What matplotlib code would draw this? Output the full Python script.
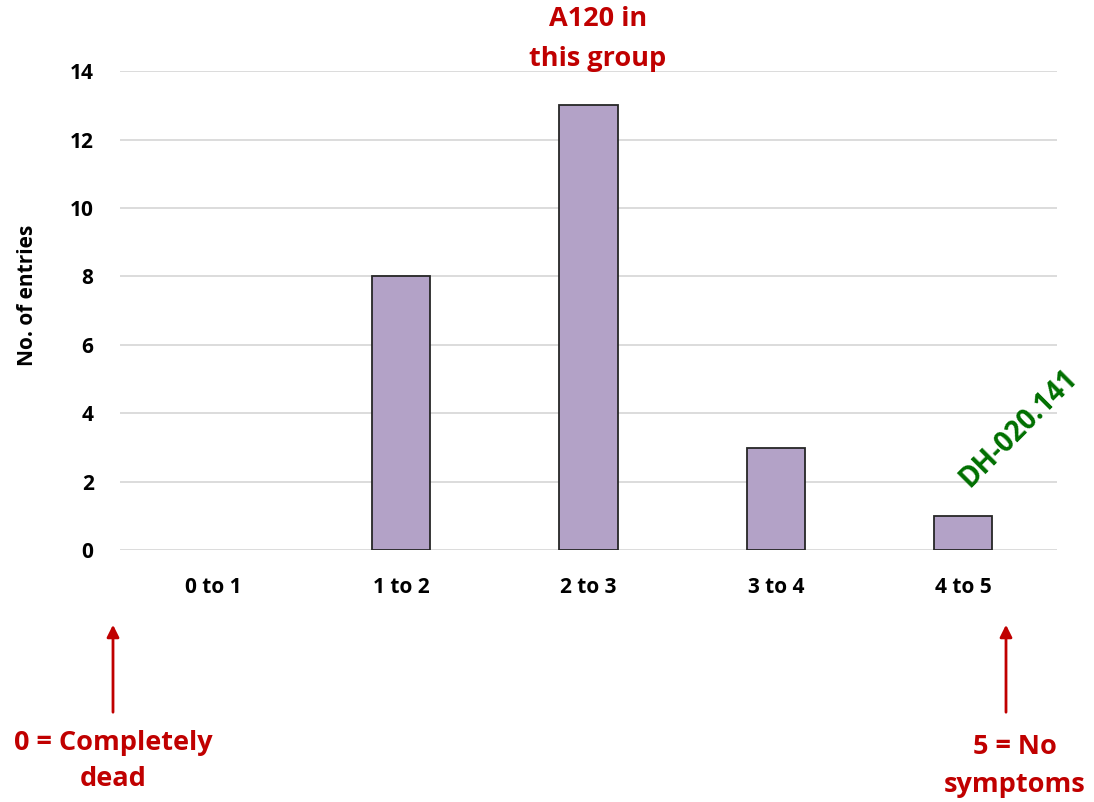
import matplotlib.pyplot as plt

# =========================
# Data
# =========================
categories = ["0 to 1", "1 to 2", "2 to 3", "3 to 4", "4 to 5"]
counts = [0, 8, 13, 3, 1]
y_ticks = [0, 2, 4, 6, 8, 10, 12, 14]

plt.rcParams["font.family"] = ["Open Sans", "DejaVu Sans"]
plt.rcParams["font.weight"] = "bold"

red = "#C00000"
green = "#006F00"

fig = plt.figure(figsize=(10.94, 8.02), dpi=100)
ax = fig.add_axes([0.1097, 0.314, 0.8565, 0.5973])

x = range(len(categories))
# zero-height bars get no outline (Excel draws nothing there)
edges = ["#262626" if c > 0 else "none" for c in counts]
ax.bar(x, counts, width=0.31, color="#B3A2C7", edgecolor=edges,
       linewidth=1.3, zorder=3)

ax.set_xlim(-0.5, len(categories) - 0.5)
ax.set_ylim(0, 14)
ax.set_yticks(y_ticks)
ax.set_xticks(list(x))
ax.set_xticklabels(categories)
ax.tick_params(axis="both", length=0, labelsize=15)
ax.tick_params(axis="x", pad=19)
ax.tick_params(axis="y", pad=19)
for lab in ax.get_xticklabels() + ax.get_yticklabels():
    lab.set_fontweight("bold")

ax.grid(axis="y", color="#D9D9D9", linewidth=1.3, zorder=0)
for s in ax.spines.values():
    s.set_visible(False)

ax.set_ylabel("No. of entries", fontsize=15, fontweight="bold")
ax.yaxis.set_label_coords(-0.087, 0.532)

# annotations
fig.text(598 / 1094, 1 - 39 / 802, "A120 in\nthis group", color=red,
         fontsize=19.5, fontweight="bold", ha="center", va="center",
         linespacing=1.65)

fig.text(1019 / 1094, 1 - 428 / 802, "DH-020.141", color=green,
         fontsize=20, fontweight="bold", ha="center", va="center",
         rotation=45)

for xp in (113, 1006):
    fig.add_artist(plt.Annotation(
        "", xy=(xp / 1094, 1 - 622 / 802), xytext=(xp / 1094, 1 - 715 / 802),
        xycoords="figure fraction", textcoords="figure fraction",
        arrowprops=dict(arrowstyle="-|>", color=red, lw=2,
                        mutation_scale=18)))

fig.text(113 / 1094, 1 - 761 / 802, "0 = Completely\ndead", color=red,
         fontsize=19.5, fontweight="bold", ha="center", va="center",
         linespacing=1.55)
fig.text(1015 / 1094, 1 - 766 / 802, "5 = No\nsymptoms", color=red,
         fontsize=19.5, fontweight="bold", ha="center", va="center",
         linespacing=1.62)

plt.savefig("out.png", dpi=100)
